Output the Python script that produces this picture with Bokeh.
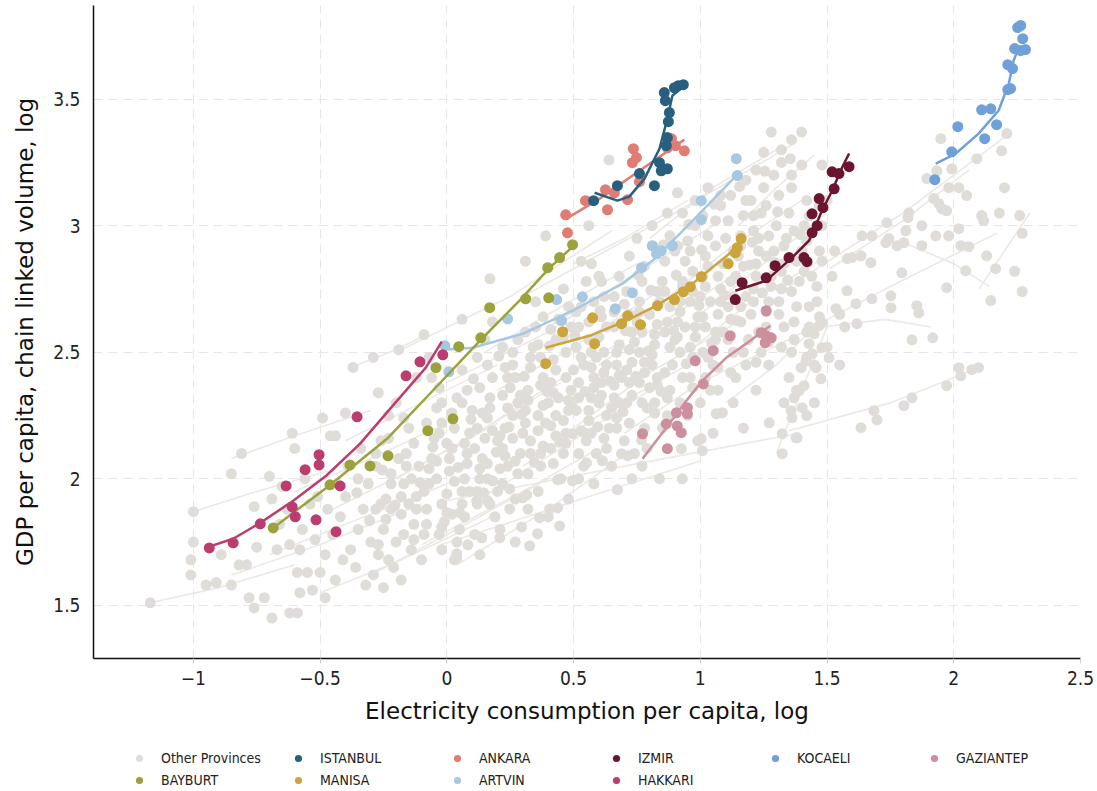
from bokeh.plotting import figure
from bokeh.layouts import column
from bokeh.models import FixedTicker, Legend, LegendItem, Range1d
from bokeh.embed import file_html
from bokeh.resources import INLINE

# ---------------- tick data ----------------
x_ticks = [-1, -0.5, 0, 0.5, 1, 1.5, 2, 2.5]
x_tick_labels = ["\u22121", "\u22120.5", "0", "0.5", "1", "1.5", "2", "2.5"]
y_ticks = [1.5, 2, 2.5, 3, 3.5]
y_tick_labels = ["1.5", "2", "2.5", "3", "3.5"]

# ---------------- highlighted provinces ----------------
istanbul_x = [0.579, 0.673, 0.760, 0.819, 0.839, 0.846, 0.870, 0.866, 0.870, 0.874, 0.878, 0.862, 0.858, 0.898, 0.913, 0.933]
istanbul_y = [3.099, 3.158, 3.206, 3.158, 3.249, 3.217, 3.225, 3.316, 3.348, 3.411, 3.447, 3.494, 3.526, 3.545, 3.553, 3.557]
istanbul_fit_x = [0.583, 0.673, 0.720, 0.780, 0.839, 0.870, 0.890, 0.933]
istanbul_fit_y = [3.130, 3.099, 3.115, 3.186, 3.304, 3.423, 3.514, 3.549]

ankara_x = [0.476, 0.469, 0.547, 0.634, 0.626, 0.661, 0.713, 0.760, 0.732, 0.748, 0.736, 0.870, 0.886, 0.902, 0.937]
ankara_y = [2.972, 3.043, 3.099, 3.063, 3.142, 3.130, 3.103, 3.174, 3.249, 3.269, 3.304, 3.308, 3.344, 3.316, 3.296]
ankara_fit_x = [0.472, 0.600, 0.750, 0.937]
ankara_fit_y = [3.028, 3.105, 3.210, 3.340]

izmir_x = [1.138, 1.165, 1.260, 1.295, 1.350, 1.409, 1.421, 1.441, 1.461, 1.441, 1.484, 1.469, 1.528, 1.520, 1.547, 1.587]
izmir_y = [2.708, 2.775, 2.794, 2.842, 2.874, 2.874, 2.858, 2.972, 3.000, 3.047, 3.071, 3.107, 3.146, 3.213, 3.206, 3.233]
izmir_fit_x = [1.138, 1.260, 1.362, 1.429, 1.480, 1.520, 1.559, 1.587]
izmir_fit_y = [2.743, 2.783, 2.874, 2.941, 3.059, 3.138, 3.229, 3.285]

kocaeli_x = [1.925, 1.992, 2.016, 2.122, 2.110, 2.146, 2.169, 2.213, 2.224, 2.213, 2.232, 2.240, 2.264, 2.283, 2.272, 2.252, 2.264]
kocaeli_y = [3.182, 3.292, 3.391, 3.344, 3.458, 3.462, 3.399, 3.538, 3.542, 3.636, 3.621, 3.700, 3.692, 3.696, 3.739, 3.783, 3.791]
kocaeli_fit_x = [1.929, 2.008, 2.098, 2.177, 2.217, 2.236, 2.256]
kocaeli_fit_y = [3.245, 3.285, 3.364, 3.455, 3.561, 3.652, 3.704]

gaziantep_x = [0.772, 0.870, 0.866, 0.906, 0.909, 0.925, 0.949, 0.949, 1.012, 0.980, 1.051, 1.118, 1.240, 1.260, 1.280, 1.256, 1.260]
gaziantep_y = [2.178, 2.119, 2.217, 2.261, 2.209, 2.182, 2.281, 2.257, 2.375, 2.466, 2.506, 2.565, 2.577, 2.565, 2.557, 2.538, 2.664]
gaziantep_fit_x = [0.772, 0.866, 0.945, 1.008, 1.102, 1.181, 1.276]
gaziantep_fit_y = [2.079, 2.202, 2.308, 2.387, 2.478, 2.534, 2.605]

bayburt_x = [-0.685, -0.461, -0.382, -0.303, -0.232, -0.075, 0.024, -0.043, 0.047, 0.134, 0.169, 0.311, 0.402, 0.398, 0.445, 0.496]
bayburt_y = [1.806, 1.976, 2.055, 2.051, 2.091, 2.190, 2.237, 2.439, 2.522, 2.557, 2.676, 2.711, 2.715, 2.834, 2.874, 2.925]
bayburt_fit_x = [-0.685, -0.476, -0.382, -0.236, -0.067, 0.130, 0.287, 0.406, 0.492]
bayburt_fit_y = [1.806, 1.964, 2.040, 2.158, 2.336, 2.545, 2.704, 2.834, 2.913]

manisa_x = [0.390, 0.457, 0.575, 0.583, 0.689, 0.713, 0.764, 0.831, 0.898, 0.933, 0.961, 1.004, 1.110, 1.138, 1.146, 1.161]
manisa_y = [2.455, 2.581, 2.636, 2.534, 2.613, 2.644, 2.609, 2.684, 2.708, 2.739, 2.759, 2.798, 2.850, 2.893, 2.913, 2.949]
manisa_fit_x = [0.390, 0.563, 0.709, 0.827, 0.969, 1.114, 1.161]
manisa_fit_y = [2.518, 2.565, 2.625, 2.684, 2.771, 2.889, 2.941]

artvin_x = [-0.008, 0.008, 0.240, 0.433, 0.453, 0.535, 0.665, 0.732, 0.768, 0.811, 0.827, 0.846, 0.890, 1.004, 1.004, 1.142, 1.146]
artvin_y = [2.526, 2.423, 2.632, 2.708, 2.625, 2.719, 2.672, 2.735, 2.834, 2.921, 2.889, 2.901, 2.921, 3.099, 3.024, 3.265, 3.198]
artvin_fit_x = [-0.016, 0.102, 0.299, 0.496, 0.693, 0.827, 0.996, 1.142]
artvin_fit_y = [2.510, 2.518, 2.573, 2.664, 2.771, 2.874, 3.047, 3.198]

hakkari_x = [-0.937, -0.843, -0.736, -0.610, -0.598, -0.516, -0.437, -0.634, -0.559, -0.504, -0.504, -0.421, -0.354, -0.161, -0.106, -0.016]
hakkari_y = [1.727, 1.747, 1.822, 1.889, 1.850, 1.838, 1.791, 1.972, 2.036, 2.095, 2.055, 1.972, 2.245, 2.407, 2.462, 2.490]
hakkari_fit_x = [-0.941, -0.843, -0.736, -0.606, -0.476, -0.343, -0.213, -0.083, -0.020]
hakkari_fit_y = [1.731, 1.763, 1.826, 1.913, 2.012, 2.138, 2.289, 2.439, 2.542]

# ---------------- other provinces ----------------
other_points = [
    (-1.17, 1.51), (-1.0, 1.87), (-1.0, 1.75), (-1.01, 1.68), (-1.01, 1.62), (-0.95, 1.58), (-0.91, 1.59),
    (-0.89, 1.70), (-0.85, 1.58), (-0.85, 2.02), (-0.81, 2.10), (-0.82, 1.66), (-0.79, 1.66), (-0.76, 1.89),
    (-0.75, 1.73), (-0.78, 1.53), (-0.76, 1.49), (-0.72, 1.53), (-0.69, 1.45),
    (-0.67, 1.72), (-0.62, 1.74), (-0.58, 1.72), (-0.59, 1.63), (-0.55, 1.63), (-0.5, 1.63), (-0.62, 1.47),
    (-0.59, 1.47), (-0.61, 2.18), (-0.60, 2.12), (-0.70, 2.01), (-0.65, 1.97), (-0.63, 1.88), (-0.57, 1.80),
    (-0.52, 1.76), (-0.54, 1.90), (-0.66, 1.82), (-0.69, 1.92), (-0.56, 2.00), (-0.51, 1.93), (-0.53, 1.56),
    (-0.58, 1.55),
    (-0.49, 2.24), (-0.46, 2.17), (-0.44, 2.17), (-0.40, 2.26), (-0.37, 2.44), (-0.44, 1.60), (-0.48, 1.70),
    (-0.45, 1.78), (-0.42, 1.85), (-0.40, 1.93), (-0.38, 1.72), (-0.36, 1.65), (-0.35, 1.80), (-0.33, 1.88),
    (-0.31, 1.98), (-0.47, 1.88), (-0.43, 1.98), (-0.39, 2.05), (-0.34, 2.12), (-0.32, 1.58), (-0.48, 1.53),
    (-0.35, 2.00), (-0.30, 1.75), (-0.41, 1.68),
    (-0.29, 2.48), (-0.27, 2.34), (-0.19, 2.51), (-0.29, 1.62), (-0.27, 1.70), (-0.25, 1.80), (-0.24, 1.92),
    (-0.22, 2.02), (-0.21, 1.65), (-0.20, 1.75), (-0.18, 1.86), (-0.17, 1.98), (-0.16, 2.10), (-0.15, 2.20),
    (-0.14, 1.72), (-0.13, 1.82), (-0.12, 1.93), (-0.11, 2.05), (-0.28, 2.05), (-0.26, 2.15), (-0.23, 2.25),
    (-0.20, 2.30), (-0.18, 1.60), (-0.12, 2.40), (-0.10, 1.68), (-0.25, 1.57), (-0.22, 1.88), (-0.19, 2.08),
    (-0.15, 1.90), (-0.28, 1.88),
    (-0.09, 2.57), (-0.07, 2.48), (-0.09, 1.78), (-0.08, 1.88), (-0.07, 1.98), (-0.06, 2.08), (-0.05, 2.16),
    (-0.04, 2.28), (-0.03, 2.36), (-0.02, 1.72), (-0.01, 1.83), (0.0, 1.94), (0.01, 2.03), (0.02, 2.12),
    (0.03, 2.20), (0.04, 2.32), (0.05, 1.80), (0.06, 1.90), (0.07, 2.00), (0.08, 2.10), (0.09, 2.18),
    (0.10, 2.27), (-0.06, 2.40), (0.06, 2.43), (0.03, 1.68), (-0.04, 2.0), (0.0, 2.14), (0.08, 2.35),
    (-0.02, 2.22), (0.09, 1.95), (0.04, 1.75), (0.06, 2.63),
    (0.11, 1.78), (0.12, 1.90), (0.13, 2.00), (0.14, 2.08), (0.15, 2.16), (0.16, 2.24), (0.17, 2.32),
    (0.18, 2.40), (0.19, 1.85), (0.20, 1.95), (0.21, 2.04), (0.22, 2.12), (0.23, 2.20), (0.24, 2.28),
    (0.25, 2.36), (0.26, 2.45), (0.27, 1.92), (0.28, 2.02), (0.29, 2.10), (0.30, 2.18), (0.12, 2.48),
    (0.17, 2.79), (0.15, 2.55), (0.22, 2.52), (0.28, 2.55), (0.14, 2.26), (0.20, 2.15), (0.26, 2.25),
    (0.24, 2.05), (0.18, 2.62), (0.29, 2.33), (0.13, 1.70), (0.21, 1.80), (0.27, 1.75), (0.24, 2.40),
    (0.16, 2.00),
    (0.31, 2.86), (0.39, 2.96), (0.31, 2.27), (0.32, 2.35), (0.33, 2.44), (0.34, 2.52), (0.35, 2.60),
    (0.36, 1.95), (0.37, 2.05), (0.38, 2.13), (0.39, 2.22), (0.40, 2.30), (0.41, 2.38), (0.42, 2.47),
    (0.43, 2.55), (0.44, 2.63), (0.45, 2.00), (0.46, 2.10), (0.47, 2.18), (0.48, 2.27), (0.49, 2.35),
    (0.50, 2.43), (0.33, 2.15), (0.36, 2.25), (0.38, 2.40), (0.41, 2.12), (0.44, 2.32), (0.47, 2.50),
    (0.35, 2.70), (0.46, 2.75), (0.49, 2.60), (0.32, 1.88), (0.40, 1.85), (0.48, 1.92), (0.43, 2.25),
    (0.37, 2.48),
    (0.51, 2.52), (0.52, 2.60), (0.53, 2.68), (0.54, 2.05), (0.55, 2.15), (0.56, 2.23), (0.57, 2.32),
    (0.58, 2.40), (0.59, 2.48), (0.60, 2.56), (0.61, 2.64), (0.62, 2.72), (0.63, 2.12), (0.64, 2.20),
    (0.65, 2.28), (0.66, 2.37), (0.67, 2.45), (0.68, 2.53), (0.69, 2.61), (0.70, 2.69), (0.55, 2.78),
    (0.57, 2.85), (0.56, 3.00), (0.64, 3.26), (0.57, 2.50), (0.60, 2.30), (0.63, 2.45), (0.66, 2.60),
    (0.69, 2.40), (0.52, 2.32), (0.54, 2.45), (0.61, 2.38), (0.67, 2.20), (0.59, 2.10), (0.52, 2.0),
    (0.58, 1.98), (0.65, 2.05), (0.70, 2.15), (0.62, 2.50), (0.68, 2.30), (0.53, 2.86), (0.66, 2.72),
    (0.60, 2.80), (0.56, 2.62),
    (0.71, 2.30), (0.72, 2.38), (0.73, 2.46), (0.74, 2.54), (0.75, 2.62), (0.76, 2.70), (0.77, 2.78),
    (0.78, 2.20), (0.79, 2.28), (0.80, 2.36), (0.81, 2.45), (0.82, 2.53), (0.83, 2.61), (0.84, 2.70),
    (0.85, 2.78), (0.86, 2.86), (0.87, 2.25), (0.88, 2.35), (0.89, 2.45), (0.90, 2.55), (0.72, 2.88),
    (0.75, 2.95), (0.81, 3.0), (0.87, 3.05), (0.91, 3.13), (0.74, 2.10), (0.78, 2.42), (0.83, 2.40),
    (0.86, 2.58), (0.76, 2.50), (0.72, 2.65), (0.80, 2.65), (0.85, 2.20), (0.88, 2.68), (0.90, 2.90),
    (0.73, 2.00), (0.79, 2.12), (0.84, 2.90), (0.77, 2.05), (0.82, 2.30),
    (0.91, 2.62), (0.92, 2.70), (0.93, 2.78), (0.94, 2.86), (0.95, 2.94), (0.96, 2.40), (0.97, 2.48),
    (0.98, 2.56), (0.99, 2.64), (1.00, 2.72), (1.01, 2.80), (1.02, 2.88), (1.03, 2.96), (1.04, 2.35),
    (1.05, 2.45), (1.06, 2.55), (1.07, 2.65), (1.08, 2.75), (1.09, 2.85), (1.10, 2.95), (0.93, 3.05),
    (0.98, 3.10), (1.03, 3.15), (1.08, 3.08), (0.95, 2.25), (1.00, 2.30), (1.05, 2.18), (0.92, 2.50),
    (1.06, 3.02), (0.97, 2.82), (1.02, 2.60), (1.09, 2.58), (0.94, 2.60), (1.01, 2.50), (1.07, 2.35),
    (0.99, 2.15), (1.04, 2.70), (0.96, 2.70),
    (1.11, 2.55), (1.12, 2.63), (1.13, 2.72), (1.14, 2.80), (1.15, 2.88), (1.16, 2.96), (1.17, 3.04),
    (1.18, 2.45), (1.19, 2.55), (1.20, 2.65), (1.21, 2.75), (1.22, 2.85), (1.23, 2.95), (1.24, 3.05),
    (1.25, 3.15), (1.26, 2.60), (1.27, 2.70), (1.28, 2.80), (1.29, 2.90), (1.30, 3.00), (1.12, 3.12),
    (1.18, 3.18), (1.25, 3.29), (1.28, 3.37), (1.14, 2.40), (1.22, 2.35), (1.27, 2.45), (1.16, 2.68),
    (1.20, 3.10), (1.24, 2.50), (1.13, 2.30), (1.29, 3.20), (1.17, 2.20), (1.21, 2.98), (1.26, 2.88),
    (1.32, 3.30), (1.22, 3.22),
    (1.31, 2.65), (1.32, 2.75), (1.33, 2.85), (1.34, 2.95), (1.35, 3.05), (1.36, 3.15), (1.37, 2.55),
    (1.38, 2.68), (1.39, 2.78), (1.40, 2.90), (1.41, 3.00), (1.42, 3.10), (1.40, 3.37), (1.36, 3.34),
    (1.40, 3.24), (1.45, 2.45), (1.43, 2.60), (1.46, 2.70), (1.44, 2.80), (1.47, 2.90), (1.48, 3.00),
    (1.48, 3.24), (1.50, 3.10), (1.53, 2.90), (1.52, 2.80), (1.55, 2.65), (1.58, 2.87), (1.57, 2.60),
    (1.35, 2.40), (1.33, 2.30), (1.38, 2.35), (1.42, 2.25), (1.50, 2.52), (1.45, 2.30), (1.36, 2.50),
    (1.55, 2.45), (1.42, 2.48), (1.32, 3.25),
    (1.598, 2.874), (1.634, 2.881), (1.673, 2.854), (1.638, 2.960), (1.677, 2.960), (1.736, 3.012),
    (1.744, 2.949), (1.732, 2.933), (1.776, 2.921), (1.803, 2.933), (1.823, 3.051), (1.819, 3.032),
    (1.811, 2.980), (1.874, 3.0), (1.874, 2.921), (1.921, 3.107), (1.941, 3.087), (1.953, 3.067),
    (1.972, 3.059), (1.929, 2.960), (1.980, 2.960), (2.020, 2.988), (1.980, 3.150), (2.020, 3.150),
    (2.051, 3.119), (1.992, 3.225), (1.933, 3.217), (1.894, 3.186), (1.949, 3.344), (2.091, 3.265),
    (2.110, 3.040), (2.118, 3.020), (2.028, 2.921), (2.059, 2.917), (2.130, 2.881), (2.165, 2.830),
    (2.146, 2.704), (1.972, 2.755), (2.047, 2.822), (1.795, 2.814), (1.752, 2.723), (1.752, 2.676),
    (1.854, 2.684), (1.862, 2.656), (1.677, 2.711), (1.614, 2.692), (1.535, 2.672), (1.579, 2.743),
    (1.618, 2.613), (1.835, 2.549), (1.917, 2.557), (1.469, 2.605), (1.480, 2.617), (1.449, 2.573),
    (1.480, 2.518), (1.508, 2.478), (1.429, 2.534), (1.441, 2.494), (1.417, 2.466), (1.457, 2.439),
    (1.398, 2.439), (1.390, 2.348), (1.476, 2.395), (1.409, 2.368), (1.370, 2.320), (1.402, 2.281),
    (1.358, 2.269), (1.362, 2.241), (1.382, 2.162), (2.020, 2.439), (2.028, 2.407), (2.071, 2.431),
    (2.098, 2.439), (1.972, 2.368), (1.835, 2.320), (1.803, 2.289), (1.685, 2.269), (1.697, 2.233),
    (1.634, 2.202), (2.209, 3.364), (2.189, 3.296), (2.26, 3.04), (2.27, 2.97), (2.24, 2.82), (2.27, 2.74),
    (2.20, 3.15), (2.18, 3.05),
    (0.839, 2.0), (0.929, 2.0), (0.673, 1.957), (0.496, 1.992), (0.437, 1.996), (0.315, 1.937), (0.299, 1.925),
    (0.248, 1.960), (0.181, 1.992), (0.248, 1.881), (0.366, 1.846), (0.406, 1.881), (0.437, 1.885),
    (0.445, 1.814), (0.295, 1.810), (0.358, 1.783), (0.327, 1.735), (0.209, 1.767), (0.138, 1.767),
    (0.083, 1.739), (0.039, 1.704), (0.039, 1.688), (0.0, 1.866), (0.051, 1.866), (0.118, 1.913),
    (0.161, 1.913), (-0.02, 1.810), (0.551, 2.063), (0.614, 2.071), (0.689, 2.099), (0.713, 2.091),
    (0.768, 2.154), (0.925, 2.119), (1.004, 2.158), (1.008, 2.111), (1.063, 2.257), (1.087, 2.261),
    (1.272, 2.221), (1.323, 2.178), (1.323, 2.099), (1.378, 2.162), (0.496, 2.178), (0.543, 2.182),
    # denser core of the cloud
    (-0.27, 1.74), (-0.26, 1.90), (-0.28, 2.10), (-0.23, 1.68), (-0.24, 1.84), (-0.22, 1.98), (-0.23, 2.16),
    (-0.17, 1.78), (-0.18, 1.93), (-0.16, 2.05), (-0.17, 2.24), (-0.13, 1.76), (-0.12, 1.88), (-0.14, 2.00),
    (-0.13, 2.14), (-0.08, 1.82), (-0.09, 1.95), (-0.07, 2.04), (-0.08, 2.22), (-0.03, 1.78), (-0.02, 1.90),
    (-0.04, 2.07), (-0.03, 2.18), (-0.02, 2.30), (0.02, 1.86), (0.03, 1.99), (0.01, 2.08), (0.02, 2.26),
    (0.07, 1.85), (0.06, 1.95), (0.08, 2.06), (0.07, 2.14), (0.06, 2.30), (0.12, 1.95), (0.13, 2.04),
    (0.11, 2.12), (0.12, 2.20), (0.13, 2.36), (0.17, 1.90), (0.16, 2.06), (0.18, 2.19), (0.17, 2.28),
    (0.16, 2.45), (0.22, 1.98), (0.23, 2.09), (0.21, 2.17), (0.22, 2.33), (0.23, 2.44), (0.27, 2.07),
    (0.26, 2.16), (0.28, 2.30), (0.27, 2.40), (0.26, 2.50), (0.32, 2.02), (0.33, 2.10), (0.31, 2.22),
    (0.32, 2.31), (0.33, 2.48), (0.31, 2.58), (0.37, 2.10), (0.36, 2.19), (0.38, 2.29), (0.37, 2.37),
    (0.36, 2.53), (0.38, 2.64), (0.42, 2.06), (0.43, 2.17), (0.41, 2.21), (0.42, 2.34), (0.43, 2.43),
    (0.41, 2.59), (0.47, 2.14), (0.46, 2.23), (0.48, 2.31), (0.47, 2.40), (0.46, 2.56), (0.48, 2.68),
    (0.52, 2.10), (0.53, 2.19), (0.51, 2.27), (0.52, 2.38), (0.53, 2.48), (0.51, 2.66), (0.57, 2.18),
    (0.56, 2.27), (0.58, 2.36), (0.57, 2.44), (0.56, 2.55), (0.58, 2.70), (0.62, 2.16), (0.63, 2.25),
    (0.61, 2.33), (0.62, 2.42), (0.63, 2.60), (0.61, 2.78), (0.67, 2.24), (0.66, 2.32), (0.68, 2.41),
    (0.67, 2.50), (0.66, 2.66), (0.68, 2.80), (0.72, 2.22), (0.73, 2.33), (0.71, 2.43), (0.72, 2.51),
    (0.73, 2.58), (0.71, 2.74), (0.77, 2.30), (0.76, 2.38), (0.78, 2.46), (0.77, 2.58), (0.76, 2.66),
    (0.78, 2.84), (0.82, 2.26), (0.83, 2.37), (0.81, 2.49), (0.82, 2.57), (0.83, 2.74), (0.81, 2.92),
    (0.87, 2.32), (0.86, 2.42), (0.88, 2.52), (0.87, 2.62), (0.86, 2.74), (0.88, 2.96), (0.92, 2.30),
    (0.93, 2.40), (0.91, 2.56), (0.92, 2.66), (0.93, 2.76), (0.91, 2.92), (0.97, 2.36), (0.96, 2.52),
    (0.98, 2.60), (0.97, 2.74), (0.96, 2.90), (0.98, 3.00), (1.02, 2.40), (1.03, 2.48), (1.01, 2.64),
    (1.02, 2.76), (1.03, 2.84), (1.01, 3.04), (1.07, 2.44), (1.06, 2.58), (1.08, 2.70), (1.07, 2.80),
    (1.06, 2.92), (1.08, 3.12), (1.12, 2.42), (1.13, 2.50), (1.11, 2.68), (1.12, 2.78), (1.13, 2.90),
    (1.11, 3.02), (1.17, 2.50), (1.16, 2.62), (1.18, 2.72), (1.17, 2.84), (1.16, 2.92), (1.18, 3.10),
    (1.22, 2.46), (1.23, 2.58), (1.21, 2.70), (1.22, 2.80), (1.23, 2.90), (1.21, 3.04), (1.27, 2.54),
    (1.26, 2.66), (1.28, 2.76), (1.27, 2.96), (1.26, 3.08), (1.32, 2.52), (1.33, 2.60), (1.31, 2.70),
    (1.32, 2.82), (1.33, 2.92), (1.31, 3.12), (1.37, 2.62), (1.36, 2.74), (1.38, 2.86), (1.37, 2.98),
    (1.36, 3.20), (1.42, 2.58), (1.43, 2.68), (1.41, 2.82), (1.42, 2.94), (1.43, 3.04), (1.47, 2.64),
    (1.46, 2.76), (1.48, 2.86), (1.47, 3.08),
    (0.045, 2.045), (0.095, 2.235), (0.145, 1.945), (0.195, 2.105), (0.245, 2.205), (0.295, 2.255),
    (0.345, 2.065), (0.395, 2.345), (0.445, 2.145), (0.495, 2.285), (0.545, 2.345), (0.595, 2.205),
    (0.645, 2.385), (0.695, 2.265), (0.745, 2.405), (0.795, 2.505), (0.845, 2.345), (0.895, 2.585),
    (0.945, 2.455), (0.995, 2.685), (1.045, 2.535), (1.095, 2.725), (1.145, 2.625), (1.195, 2.845),
    (1.245, 2.735), (1.295, 2.855), (1.345, 2.785), (1.395, 2.965), (0.105, 2.395), (0.205, 2.485),
    (0.305, 2.405), (0.405, 2.525), (0.505, 2.565), (0.605, 2.665), (0.705, 2.585), (0.805, 2.745),
    (0.905, 2.805), (1.005, 2.905), (1.105, 2.855), (1.205, 2.935), (1.305, 3.055), (0.955, 3.005),
    (1.055, 3.085), (1.155, 3.155), (1.255, 3.215), (1.355, 3.265), (0.855, 2.925), (0.755, 2.805),
    (-0.055, 2.125), (-0.105, 1.985), (-0.205, 1.895), (-0.305, 1.835), (-0.355, 1.945), (-0.255, 2.035),
]
other_x = [p[0] for p in other_points]
other_y = [p[1] for p in other_points]

other_lines = [
    [(-1.17, 1.51), (-0.9, 1.57), (-0.6, 1.66)],
    [(-1.0, 1.87), (-0.75, 1.95), (-0.47, 2.03)],
    [(-0.85, 2.08), (-0.6, 2.17), (-0.3, 2.27)],
    [(-0.38, 2.44), (-0.2, 2.51), (-0.08, 2.57)],
    [(-0.85, 1.62), (-0.5, 1.74), (-0.1, 1.9)],
    [(-0.7, 1.70), (-0.35, 1.84), (0.05, 2.0)],
    [(-0.5, 1.55), (-0.2, 1.67), (0.2, 1.86)],
    [(-0.45, 1.88), (-0.15, 2.03), (0.2, 2.22)],
    [(-0.3, 1.62), (0.0, 1.78), (0.4, 2.0)],
    [(-0.2, 2.0), (0.1, 2.17), (0.45, 2.38)],
    [(-0.1, 1.74), (0.3, 1.95), (0.6, 2.12)],
    [(0.0, 2.1), (0.3, 2.3), (0.7, 2.55)],
    [(0.1, 1.9), (0.45, 2.12), (0.8, 2.35)],
    [(0.2, 2.35), (0.5, 2.52), (0.85, 2.75)],
    [(0.3, 2.05), (0.6, 2.25), (0.95, 2.45)],
    [(0.4, 2.6), (0.7, 2.78), (1.05, 3.0)],
    [(0.5, 2.2), (0.8, 2.42), (1.15, 2.62)],
    [(0.6, 2.45), (0.9, 2.65), (1.2, 2.85)],
    [(0.7, 2.18), (1.0, 2.38), (1.35, 2.55)],
    [(0.85, 2.7), (1.1, 2.9), (1.4, 3.1)],
    [(0.95, 2.5), (1.2, 2.7), (1.5, 2.88)],
    [(-0.2, 2.5), (0.25, 2.72), (0.65, 2.98)],
    [(0.3, 2.72), (0.9, 3.05), (1.38, 3.33)],
    [(0.0, 2.38), (0.4, 2.58), (0.8, 2.85)],
    [(-0.02, 1.74), (0.5, 1.91), (1.0, 2.07)],
    [(0.04, 1.66), (0.4, 1.88), (0.71, 2.1)],
    [(-0.02, 1.91), (0.7, 2.05), (1.39, 2.18)],
    [(1.35, 2.19), (1.75, 2.3), (2.1, 2.44)],
    [(1.35, 2.55), (1.75, 2.76), (2.17, 2.97)],
    [(1.48, 2.60), (1.73, 2.63), (1.91, 2.60)],
    [(1.81, 2.93), (2.0, 2.85), (2.14, 2.76)],
    [(1.51, 2.83), (1.8, 3.02), (2.06, 3.22)],
    [(1.35, 2.76), (1.8, 3.05), (2.2, 3.35)],
    [(1.1, 2.3), (1.3, 2.45), (1.45, 2.6)],
    [(1.15, 3.0), (1.3, 3.15), (1.45, 3.28)],
    [(0.5, 2.85), (0.7, 2.95), (0.95, 3.1)],
    [(1.3, 2.1), (1.4, 2.35), (1.5, 2.6)],
    [(2.1, 2.75), (2.2, 2.9), (2.3, 3.05)],
    [(-0.6, 1.95), (-0.3, 2.08), (0.0, 2.22)],
    [(0.15, 2.5), (0.45, 2.68), (0.75, 2.85)],
    [(1.0, 2.65), (1.25, 2.85), (1.5, 3.05)],
    [(0.8, 2.95), (1.05, 3.15), (1.3, 3.3)],
    [(-0.4, 2.15), (-0.1, 2.3), (0.2, 2.45)],
]
other_lines_x = [[p[0] for p in ln] for ln in other_lines]
other_lines_y = [[p[1] for p in ln] for ln in other_lines]

# ---------------- names / colours ----------------
row1_names = ["Other Provinces", "ISTANBUL", "ANKARA", "IZMIR", "KOCAELI", "GAZIANTEP"]
row2_names = ["BAYBURT", "MANISA", "ARTVIN", "HAKKARI"]
colors = {
    "Other Provinces": "#e0ddd9",
    "ISTANBUL": "#285f7e",
    "ANKARA": "#e07c73",
    "IZMIR": "#6c1530",
    "KOCAELI": "#6fa0da",
    "GAZIANTEP": "#cc8f9d",
    "BAYBURT": "#9ba23b",
    "MANISA": "#cba43b",
    "ARTVIN": "#a6c8e0",
    "HAKKARI": "#bb3d70",
}
highlight = {
    "ARTVIN": (artvin_x, artvin_y, artvin_fit_x, artvin_fit_y),
    "MANISA": (manisa_x, manisa_y, manisa_fit_x, manisa_fit_y),
    "GAZIANTEP": (gaziantep_x, gaziantep_y, gaziantep_fit_x, gaziantep_fit_y),
    "BAYBURT": (bayburt_x, bayburt_y, bayburt_fit_x, bayburt_fit_y),
    "HAKKARI": (hakkari_x, hakkari_y, hakkari_fit_x, hakkari_fit_y),
    "IZMIR": (izmir_x, izmir_y, izmir_fit_x, izmir_fit_y),
    "KOCAELI": (kocaeli_x, kocaeli_y, kocaeli_fit_x, kocaeli_fit_y),
    "ANKARA": (ankara_x, ankara_y, ankara_fit_x, ankara_fit_y),
    "ISTANBUL": (istanbul_x, istanbul_y, istanbul_fit_x, istanbul_fit_y),
}
point_data = {"Other Provinces": (other_x, other_y)}
point_data.update({n: (v[0], v[1]) for n, v in highlight.items()})

NARROW = "DejaVu Sans Condensed"
TITLE = "DejaVu Sans"

p = figure(width=1097, height=745, x_range=(-1.394, 2.5), y_range=(1.29, 3.87),
           output_backend="svg", toolbar_location=None,
           min_border_left=93, min_border_right=17, min_border_top=5, min_border_bottom=87)
p.outline_line_color = None
p.background_fill_color = "white"

# grid
for g in (p.xgrid, p.ygrid):
    g.grid_line_color = "#e6e6e6"
    g.grid_line_dash = "9 6"
    g.grid_line_width = 1
p.xgrid.ticker = FixedTicker(ticks=x_ticks)
p.ygrid.ticker = FixedTicker(ticks=y_ticks)

# axes
p.xaxis.ticker = FixedTicker(ticks=x_ticks)
p.yaxis.ticker = FixedTicker(ticks=y_ticks)
p.xaxis.major_label_overrides = dict(zip(x_ticks, x_tick_labels))
p.yaxis.major_label_overrides = dict(zip(y_ticks, y_tick_labels))
p.xaxis.axis_label = "Electricity consumption per capita, log"
p.yaxis.axis_label = "GDP per capita, chain linked volume, log"
for ax in (p.xaxis, p.yaxis):
    ax.axis_line_color = "#111111"
    ax.axis_line_width = 1.5
    ax.major_tick_line_color = "#cccccc"
    ax.major_tick_out = 5
    ax.major_tick_in = 0
    ax.minor_tick_line_color = None
    ax.major_label_text_font = NARROW
    ax.major_label_text_font_size = "19px"
    ax.major_label_text_color = "#222222"
    ax.axis_label_text_font = TITLE
    ax.axis_label_text_font_size = "23px"
    ax.axis_label_text_font_style = "normal"
    ax.axis_label_text_color = "#111111"
p.yaxis.major_tick_line_color = None
p.xaxis.major_label_standoff = 7
p.xaxis.axis_label_standoff = 10
p.yaxis.major_label_standoff = 8
p.yaxis.axis_label_standoff = 12

# other provinces
p.multi_line(other_lines_x, other_lines_y, line_color="#ebe9e6", line_width=1.6)
p.scatter(other_x, other_y, size=11, fill_color=colors["Other Provinces"], line_color=None)

# highlighted provinces
for name, (hx, hy, fx, fy) in highlight.items():
    p.line(fx, fy, line_color=colors[name], line_width=2.5)
    p.scatter(hx, hy, size=11, fill_color=colors[name], line_color=None)

# ---------------- legend strip below the chart ----------------
# the same series are drawn again here, but outside this strip's visible range,
# so only their legend swatches show.
lg_fig = figure(width=1097, height=46, x_range=Range1d(0, 1), y_range=Range1d(0, 1),
                output_backend="svg", toolbar_location=None,
                x_axis_location=None, y_axis_location=None,
                min_border_left=0, min_border_right=0, min_border_top=0, min_border_bottom=0)
lg_fig.outline_line_color = None
lg_fig.xgrid.visible = False
lg_fig.ygrid.visible = False
legend_renderers = {n: lg_fig.scatter(point_data[n][0], point_data[n][1], size=11,
                                      fill_color=colors[n], line_color=None)
                    for n in row1_names + row2_names}

def make_legend(names, vy):
    lg = Legend(items=[LegendItem(label=n, renderers=[legend_renderers[n]]) for n in names],
                orientation="horizontal", location=(36, vy))
    lg.border_line_color = None
    lg.background_fill_alpha = 0
    lg.label_text_font = NARROW
    lg.label_text_font_size = "14px"
    lg.label_text_color = "#222222"
    lg.glyph_width = 20
    lg.glyph_height = 18
    lg.label_height = 18
    lg.label_width = 127
    lg.label_standoff = 12
    lg.spacing = 0
    lg.padding = 2
    lg.margin = 0
    return lg

lg_fig.add_layout(make_legend(row1_names, 24))
lg_fig.add_layout(make_legend(row2_names, 2))

layout = column(p, lg_fig, spacing=0)
open("out.html", "w").write(file_html(layout, INLINE))
